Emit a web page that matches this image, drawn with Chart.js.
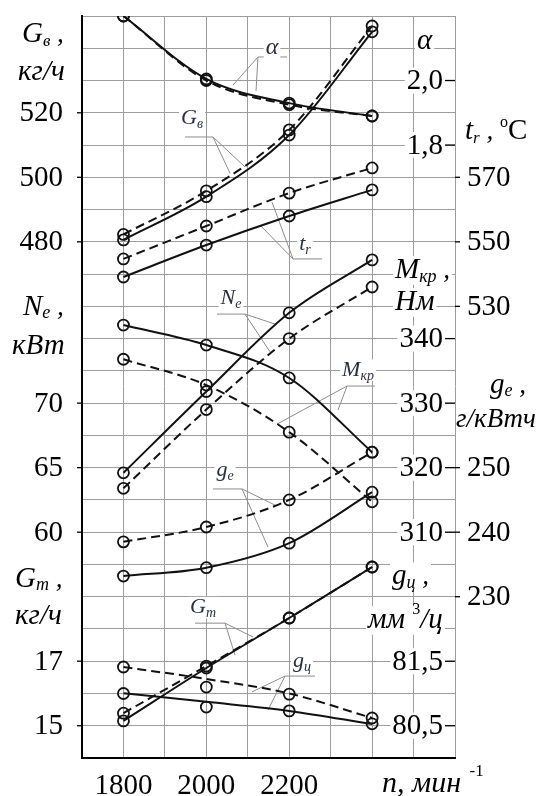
<!DOCTYPE html>
<html><head><meta charset="utf-8">
<script src="https://cdn.jsdelivr.net/npm/chart.js@4/dist/chart.umd.min.js"></script>
<style>html,body{margin:0;padding:0;background:#fff;}canvas{display:block;}</style>
</head><body>
<canvas id="c" width="555" height="796"></canvas>
<script>
// ---- data ----
const rpm = [1800, 2000, 2200, 2400];
const alphaSolid = [2.2, 2.005, 1.93, 1.89];
const alphaDashed = [2.2, 2.0, 1.925, 1.89];
const gvSolid = [480.6, 494.0, 513.1, 545.1];
const gvDashed = [482.3, 495.8, 514.7, 546.9];
const trSolid = [539.1, 549.0, 558.0, 566.1];
const trDashed = [544.7, 554.9, 565.1, 572.9];
const neSolid = [64.6, 70.9, 77.0, 81.1];
const neDashed = [63.4, 69.5, 75.0, 79.0];
const mkrSolid = [342.1, 339.0, 333.9, 322.4];
const mkrDashed = [336.8, 332.8, 325.5, 314.7];
const geSolid = [233.2, 234.5, 238.3, 246.2];
const geDashed = [238.5, 240.8, 245.0, 252.4];
const gmSolid = [15.15, 16.79, 18.34, 19.92];
const gmDashed = [15.39, 16.85, 18.34, 19.92];
const gcSolidPts = [81.0, 80.79, 80.73, 80.53];
const gcDashedPts = [81.41, 81.1, 80.99, 80.62];
const gcSolidFit = [81.005, 80.87, 80.73, 80.525];
const gcDashedFit = [81.41, 81.225, 81.0, 80.62];

// tick labels
const xTicks = [1800, 2000, 2200];
const gvTicks = [480, 500, 520];
const neTicks = [60, 65, 70];
const gmTicks = [15, 17];
const alphaTicks = [1.8, 2.0];
const mkrTicks = [310, 320, 330, 340];
const gcTicks = [80.5, 81.5];
const trTicks = [530, 550, 570];
const geTicks = [230, 240, 250];

const FAM = "'Liberation Serif','Times New Roman',serif";
const font = (s, it) => (it ? 'italic ' : '') + s + 'px ' + FAM;

function ser(vals, axis, dashed, pts = true, line = true) {
  return {
    data: rpm.map((x, i) => ({x, y: vals[i]})),
    yAxisID: axis,
    borderColor: '#111', borderWidth: 2,
    borderDash: dashed ? [9, 5] : [],
    pointRadius: pts ? 5.5 : 0, pointBorderWidth: 1.8,
    pointBackgroundColor: 'rgba(0,0,0,0)', pointBorderColor: '#111',
    showLine: line, fill: false,
    cubicInterpolationMode: 'monotone'
  };
}

const datasets = [
  ser(alphaSolid, 'yA', false), ser(alphaDashed, 'yA', true),
  ser(gvSolid, 'yGv', false), ser(gvDashed, 'yGv', true),
  ser(trSolid, 'yTr', false), ser(trDashed, 'yTr', true),
  ser(neSolid, 'yNe', false), ser(neDashed, 'yNe', true),
  ser(mkrSolid, 'yM', false), ser(mkrDashed, 'yM', true),
  ser(geSolid, 'yGe', false), ser(geDashed, 'yGe', true),
  ser(gmSolid, 'yGm', false), ser(gmDashed, 'yGm', true),
  ser(gcSolidFit, 'yGc', false, false, true), ser(gcDashedFit, 'yGc', true, false, true),
  ser(gcSolidPts, 'yGc', false, true, false), ser(gcDashedPts, 'yGc', true, true, false)
];

function drawRuns(ctx, x, y, parts, opt = {}) {
  let w = 0; const ms = [];
  parts.forEach(p => { ctx.font = font(p[1], p[2]); const m = ctx.measureText(p[0]).width; ms.push(m); w += m; });
  const x0 = opt.align === 'right' ? x - w : opt.align === 'center' ? x - w / 2 : x;
  if (opt.bg) {
    const s = Math.max(...parts.map(p => p[1]));
    ctx.fillStyle = '#fff';
    ctx.fillRect(x0 - 2, y - s * 0.75, w + 4, s * 0.98);
  }
  ctx.fillStyle = opt.color || '#000';
  ctx.textBaseline = 'alphabetic'; ctx.textAlign = 'left';
  let cx = x0;
  parts.forEach((p, i) => { ctx.font = font(p[1], p[2]); ctx.fillText(p[0], cx, y + (p[3] || 0)); cx += ms[i]; });
}

const notes = [
  {parts: [['α', 24, true]], c: [2158.5, 22.05], u: [2124.7, 2194.7, 21.73], from: 0, to: [[2064.4, 20.86], [2119.9, 20.68]]},
  {parts: [['G', 22, true], ['в', 14, true, 4]], c: [1965.4, 19.87], u: [1948.5, 2016.1, 19.25], from: 1, to: [[2057.1, 18.13], [2093.3, 18.32]]},
  {parts: [['t', 22, true], ['r', 14, true, 4]], c: [2238.1, 15.95], u: [2209.2, 2279.1, 15.47], from: 0, to: [[2158.5, 17.23], [2129.5, 16.52]]},
  {parts: [['N', 22, true], ['e', 14, true, 4]], c: [2059.5, 14.3], u: [2025.8, 2093.3, 13.76], from: 1, to: [[2165.7, 13.45], [2153.6, 12.59]]},
  {parts: [['M', 22, true], ['кр', 14, true, 4]], c: [2366, 12.06], u: [2339.5, 2407, 11.53], from: 0, to: [[2170.6, 10.35], [2317.8, 10.79]]},
  {parts: [['g', 22, true], ['e', 14, true, 4]], c: [2045, 8.95], u: [2016.1, 2086.1, 8.34], from: 1, to: [[2165.7, 7.84], [2148.8, 6.54]]},
  {parts: [['G', 22, true], ['m', 14, true, 4]], c: [1992, 4.7], u: [1972.7, 2045.1, 4.18], from: 1, to: [[2112.6, 3.75], [2069.2, 3.19]]},
  {parts: [['g', 22, true], ['ц', 14, true, 4]], c: [2230.9, 3.05], u: [2189.9, 2262.3, 2.54], from: 0, to: [[2110.2, 2.05], [2148.8, 1.49]]}
];

const deco = {
  id: 'deco',
  beforeDatasetsDraw(chart) {
    const ctx = chart.ctx, ca = chart.chartArea, s = chart.scales;
    const X = v => s.x.getPixelForValue(v), Y = r => s.yGrid.getPixelForValue(r);
    const L = ca.left, R = ca.right;
    ctx.save();
    // left tick labels
    const left = [['yGv', gvTicks, 0], ['yNe', neTicks, 0], ['yGm', gmTicks, 0]];
    ctx.strokeStyle = '#000'; ctx.lineWidth = 1.3;
    left.forEach(([id, arr, d]) => arr.forEach(v => {
      const y = s[id].getPixelForValue(v);
      ctx.beginPath(); ctx.moveTo(L - 5, y); ctx.lineTo(L, y); ctx.stroke();
      ctx.font = font(29, false); ctx.fillStyle = '#000';
      ctx.textAlign = 'right'; ctx.textBaseline = 'middle';
      ctx.fillText(v.toFixed(d).replace('.', ','), L - 19, y + 1);
    }));
    // inner right tick labels
    const inner = [['yA', alphaTicks, 1], ['yM', mkrTicks, 0], ['yGc', gcTicks, 1]];
    inner.forEach(([id, arr, d]) => arr.forEach(v => {
      const y = s[id].getPixelForValue(v);
      const t = v.toFixed(d).replace('.', ',');
      ctx.font = font(29, false);
      const w = ctx.measureText(t).width;
      ctx.fillStyle = '#fff'; ctx.fillRect(R - 12 - w - 2, y - 13, w + 4, 26);
      ctx.strokeStyle = '#000'; ctx.lineWidth = 1.3;
      ctx.beginPath(); ctx.moveTo(R - 10, y); ctx.lineTo(R, y); ctx.stroke();
      ctx.fillStyle = '#000'; ctx.textAlign = 'right'; ctx.textBaseline = 'middle';
      ctx.fillText(t, R - 12, y + 1);
    }));
    // outer right tick labels
    const outer = [['yTr', trTicks, 0], ['yGe', geTicks, 0]];
    outer.forEach(([id, arr, d]) => arr.forEach(v => {
      const y = s[id].getPixelForValue(v);
      ctx.strokeStyle = '#000'; ctx.lineWidth = 1.3;
      ctx.beginPath(); ctx.moveTo(R, y); ctx.lineTo(R + 5, y); ctx.stroke();
      ctx.font = font(29, false); ctx.fillStyle = '#000';
      ctx.textAlign = 'left'; ctx.textBaseline = 'middle';
      ctx.fillText(v.toFixed(d).replace('.', ','), R + 12, y + 1);
    }));
    // x tick labels
    xTicks.forEach(v => {
      ctx.font = font(29, false); ctx.fillStyle = '#000';
      ctx.textAlign = 'center'; ctx.textBaseline = 'alphabetic';
      ctx.fillText(String(v), X(v), ca.bottom + 36);
    });
    // axis titles (left)
    drawRuns(ctx, L - 60, Y(22.19), [['G', 29, true], ['в', 17, true, 4], [' ,', 27, true]]);
    drawRuns(ctx, L - 64, Y(21.02), [['кг/ч', 29, true]]);
    drawRuns(ctx, L - 59, Y(13.73), [['N', 29, true], ['e', 18, true, 3], [' ,', 27, true]]);
    drawRuns(ctx, L - 70, Y(12.52), [['кВт', 29, true]]);
    drawRuns(ctx, L - 67, Y(5.30), [['G', 29, true], ['m', 18, true, 3], [' ,', 27, true]]);
    drawRuns(ctx, L - 67, Y(4.15), [['кг/ч', 29, true]]);
    // axis titles (right)
    drawRuns(ctx, R - 38, Y(21.98), [['α', 29, true]], {bg: true});
    drawRuns(ctx, R + 10, Y(19.19), [['t', 29, true], ['r', 17, true, 4], [' , ', 27, true], ['o', 16, false, -12], ['C', 29, false]]);
    drawRuns(ctx, R - 60, Y(14.88), [['M', 29, true], ['кр', 18, true, 4], [' ,', 27, true]], {bg: true});
    drawRuns(ctx, R - 60, Y(13.89), [['Нм', 29, true]], {bg: true});
    drawRuns(ctx, R + 35, Y(11.31), [['g', 29, true], ['e', 18, true, 3], [' ,', 27, true]]);
    drawRuns(ctx, R + 1, Y(10.26), [['г/кВтч', 27, true]]);
    drawRuns(ctx, R - 63, Y(5.39), [['g', 29, true], ['ц', 18, true, 4], [' ,', 27, true]], {bg: true});
    drawRuns(ctx, R - 87, Y(4.03), [['мм ', 29, true], ['3', 16, false, -14], ['/ц', 29, true]], {bg: true});
    drawRuns(ctx, R - 73, ca.bottom + 34, [['n, мин', 30, true], ['  -1', 17, false, -16]]);
    // annotations
    notes.forEach(n => {
      const ux1 = X(n.u[0]), ux2 = X(n.u[1]), uy = Y(n.u[2]);
      const fx = n.from === 0 ? ux1 : ux2;
      ctx.strokeStyle = '#8c8c8c'; ctx.lineWidth = 1;
      ctx.beginPath(); ctx.moveTo(ux1, uy); ctx.lineTo(ux2, uy);
      n.to.forEach(t => { ctx.moveTo(fx, uy); ctx.lineTo(X(t[0]), Y(t[1])); });
      ctx.stroke();
      drawRuns(ctx, X(n.c[0]), Y(n.c[1]) + 7, n.parts, {align: 'center', bg: true, color: '#2b2f3f'});
    });
    ctx.restore();
  }
};

new Chart(document.getElementById('c'), {
  type: 'line',
  data: {datasets},
  options: {
    responsive: false, animation: false, devicePixelRatio: 1,
    layout: {padding: {left: 82, right: 100, top: 16, bottom: 38}},
    plugins: {legend: {display: false}, tooltip: {enabled: false}},
    scales: {
      x: {type: 'linear', min: 1700, max: 2600,
          ticks: {display: false, stepSize: 100},
          grid: {drawTicks: false, color: c => c.tick && c.tick.value === 1700 ? 'rgba(0,0,0,0)' : '#9d9d9d', lineWidth: 1},
          border: {color: '#000', width: 2}},
      yGrid: {type: 'linear', position: 'left', min: 0, max: 23,
          ticks: {display: false, stepSize: 1},
          grid: {drawTicks: false, color: c => c.tick && c.tick.value === 0 ? 'rgba(0,0,0,0)' : '#9d9d9d', lineWidth: 1},
          border: {color: '#000', width: 2}},
      yA: {display: false, min: -0.1, max: 2.2},
      yGv: {display: false, min: 320, max: 550},
      yTr: {display: false, min: 390, max: 620},
      yNe: {display: false, min: 42.5, max: 100},
      yM: {display: false, min: 275, max: 390},
      yGe: {display: false, min: 205, max: 320},
      yGm: {display: false, min: 14, max: 37},
      yGc: {display: false, min: 80, max: 91.5}
    }
  },
  plugins: [deco]
});
</script>
</body></html>
